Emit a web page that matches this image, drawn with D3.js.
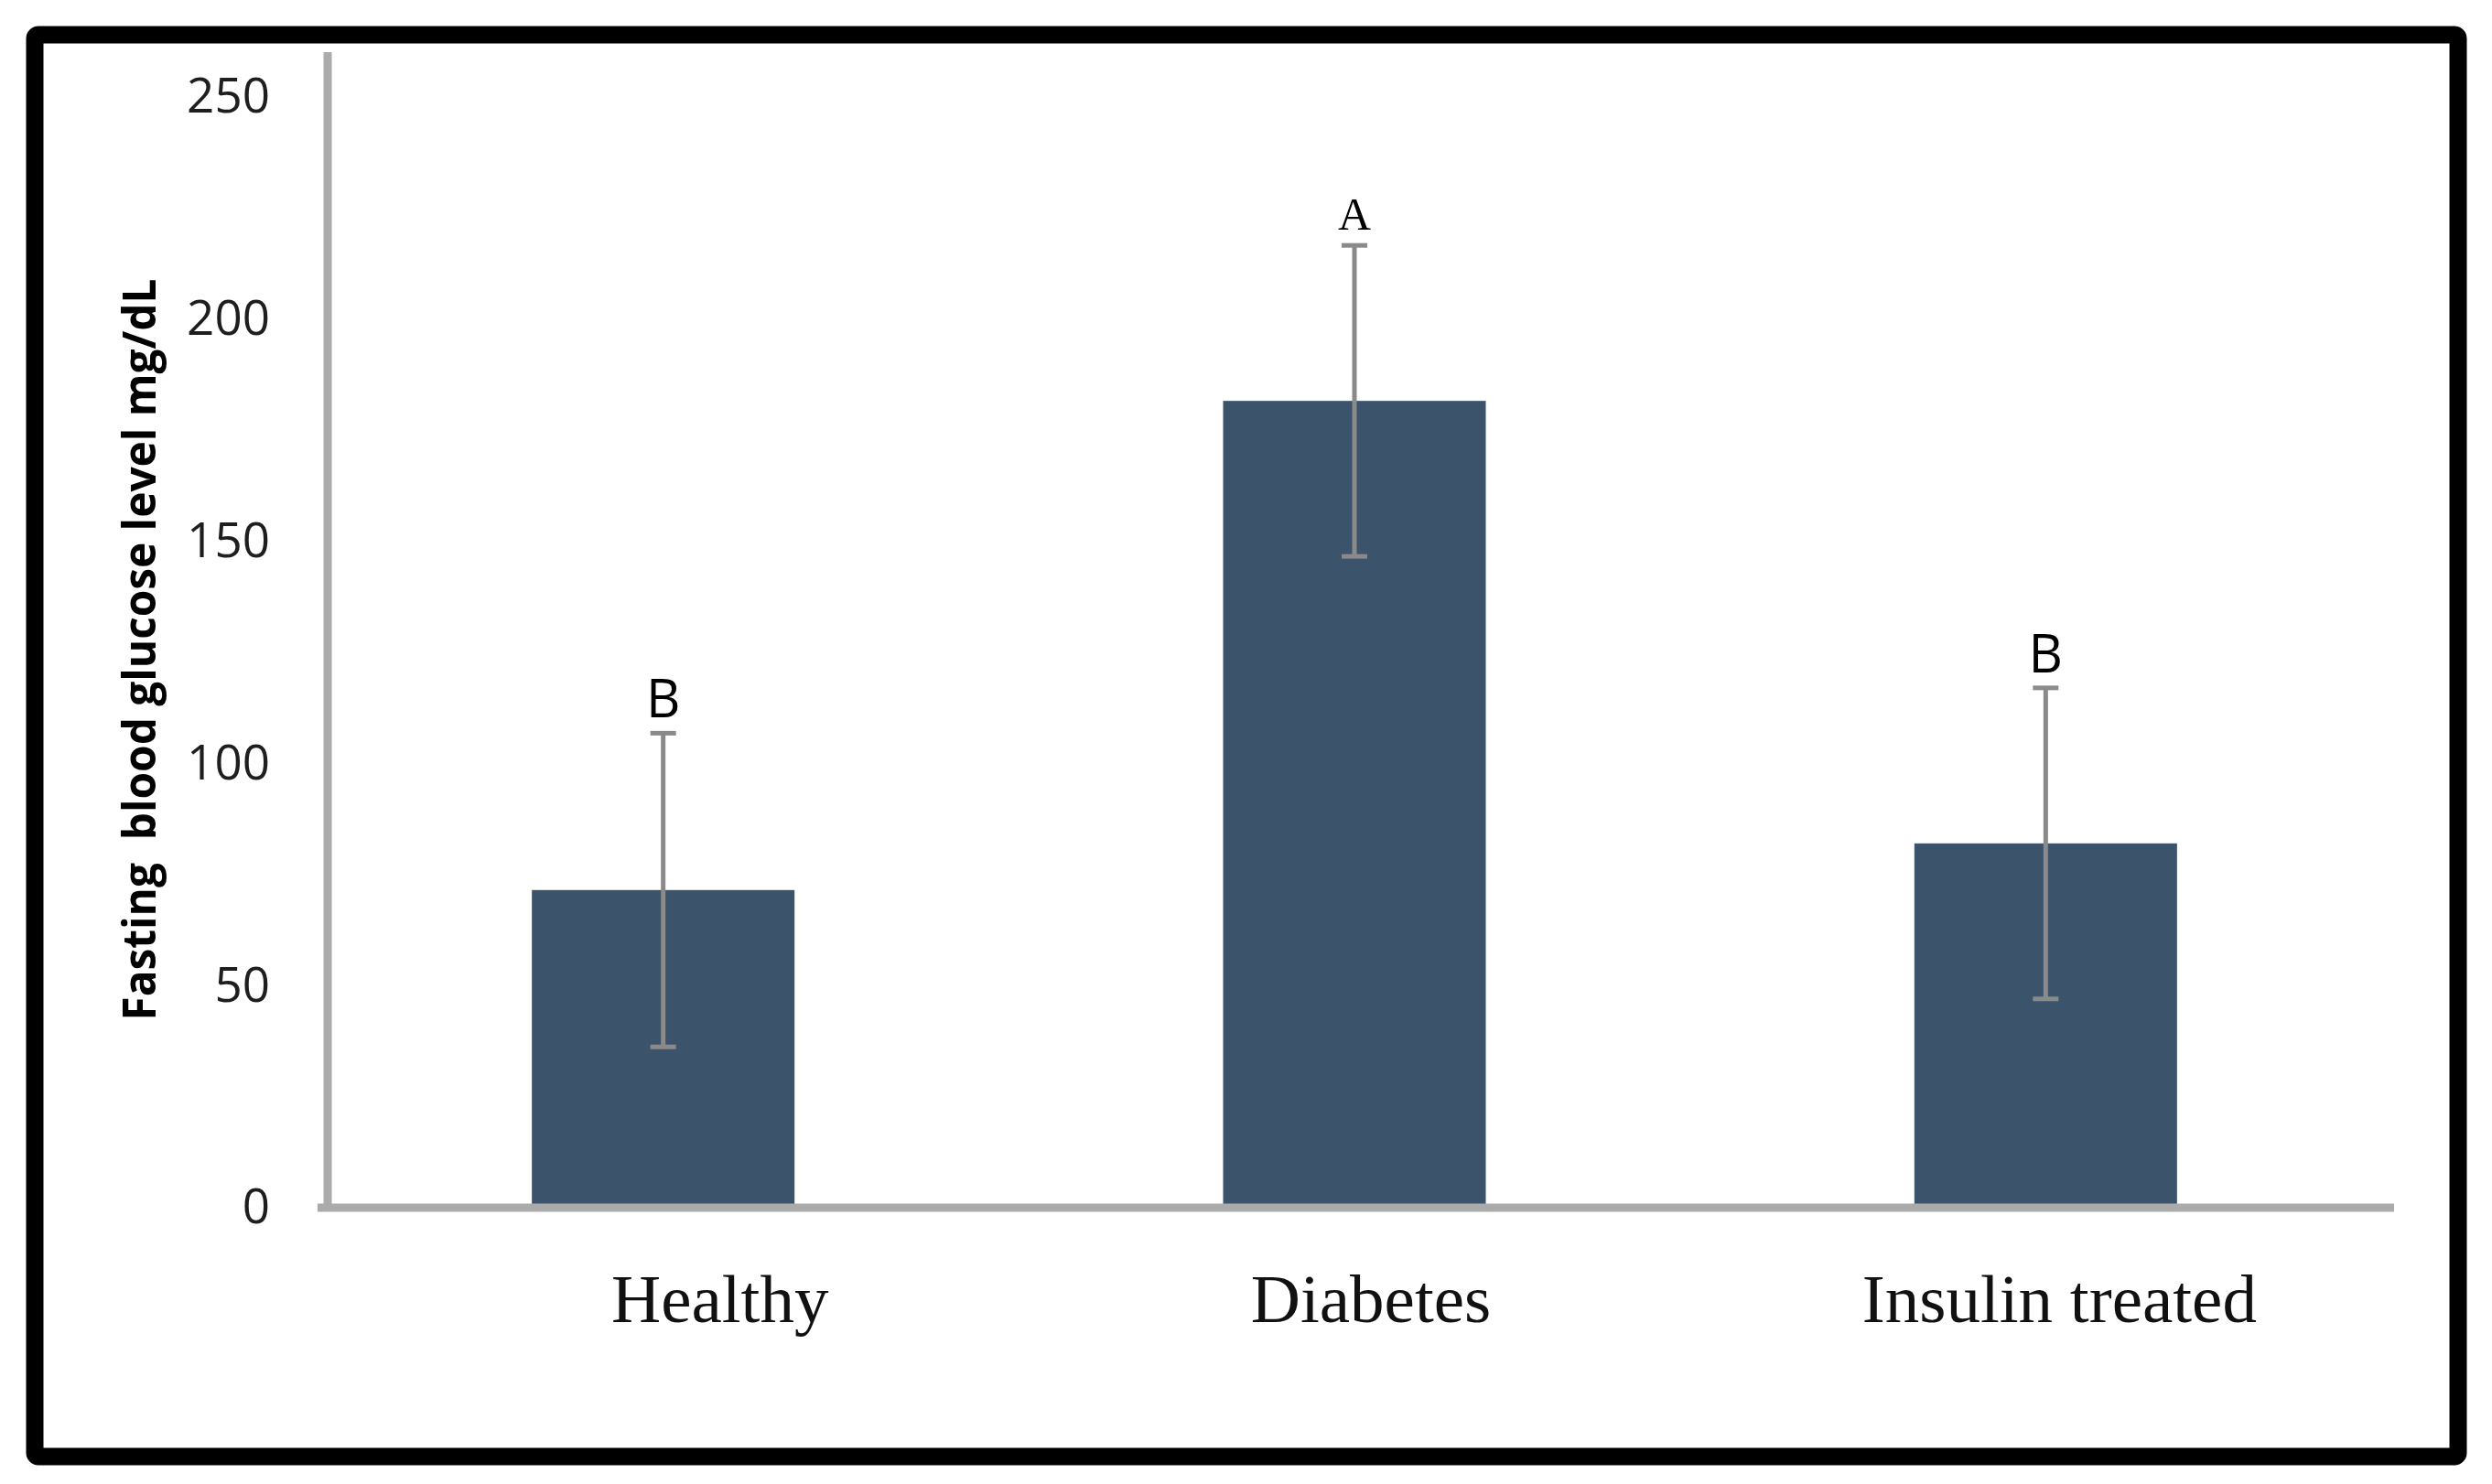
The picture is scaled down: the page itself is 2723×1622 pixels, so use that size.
<!DOCTYPE html>
<html>
<head>
<meta charset="utf-8">
<script src="https://cdn.jsdelivr.net/npm/d3@7"></script>
<style>
  body { margin: 0; background: #fff; }
  svg { display: block; }
</style>
</head>
<body>
<svg id="chart" width="2723" height="1622"></svg>
<script>
// Data
const categories = ["Healthy", "Diabetes", "Insulin treated"];
const means = [71.5, 181.6, 82];
const errors = [35.3, 35, 35];
const letters = ["B", "A", "B"];
const yTicks = [0, 50, 100, 150, 200, 250];

// label nudges (the original labels are not quite centred on the bars)
const labelNudge = [62, 18, 15];

const svg = d3.select("#chart");
const width = +svg.attr("width");
const height = +svg.attr("height");

const barColor = "#3b546c";
const axisColor = "#ababab";
const errColor = "#8a8a8a";

const y = d3.scaleLinear().domain([0, 250]).range([1320, 106]);
const x = d3.scaleBand()
  .domain(categories)
  .range([347, 2613])
  .paddingInner(0.62)
  .paddingOuter(0.31);

const rows = categories.map((c, i) => ({
  cat: c, mean: means[i], err: errors[i], letter: letters[i], nudge: labelNudge[i]
}));

svg.append("rect")
  .attr("width", width)
  .attr("height", height)
  .attr("fill", "#fff");

// outer frame
svg.append("rect")
  .attr("x", 38)
  .attr("y", 38)
  .attr("width", 2648)
  .attr("height", 1554)
  .attr("rx", 4)
  .attr("fill", "none")
  .attr("stroke", "#000")
  .attr("stroke-width", 19);

// bars
svg.selectAll(".bar")
  .data(rows)
  .enter()
  .append("rect")
  .attr("class", "bar")
  .attr("x", (d) => x(d.cat))
  .attr("width", x.bandwidth())
  .attr("y", (d) => y(d.mean))
  .attr("height", (d) => y(0) - y(d.mean))
  .attr("fill", barColor);

// error bars
const eb = svg.selectAll(".err")
  .data(rows)
  .enter()
  .append("g")
  .attr("class", "err")
  .attr("stroke", errColor)
  .attr("stroke-width", 5);

const cx = (d) => x(d.cat) + x.bandwidth() / 2;

eb.append("line")
  .attr("x1", cx)
  .attr("x2", cx)
  .attr("y1", (d) => y(d.mean + d.err))
  .attr("y2", (d) => y(d.mean - d.err));

[1, -1].forEach((s) => {
  eb.append("line")
    .attr("x1", (d) => cx(d) - 14)
    .attr("x2", (d) => cx(d) + 14)
    .attr("y1", (d) => y(d.mean + s * d.err))
    .attr("y2", (d) => y(d.mean + s * d.err));
});

// significance letters
svg.selectAll(".letter")
  .data(rows)
  .enter()
  .append("text")
  .attr("class", "letter")
  .attr("x", cx)
  .attr("y", (d) => y(d.mean + d.err) - 17)
  .attr("text-anchor", "middle")
  .attr("fill", "#000")
  .style("font-family", (d) => d.letter === "A" ? "'Liberation Serif', serif" : "'Open Sans', sans-serif")
  .style("font-size", (d) => d.letter === "A" ? "50px" : "58px")
  .text((d) => d.letter);

// axis lines
svg.append("line")
  .attr("x1", 358)
  .attr("x2", 358)
  .attr("y1", 57)
  .attr("y2", y(0) + 4)
  .attr("stroke", axisColor)
  .attr("stroke-width", 9);

svg.append("line")
  .attr("x1", 347)
  .attr("x2", 2616)
  .attr("y1", y(0))
  .attr("y2", y(0))
  .attr("stroke", axisColor)
  .attr("stroke-width", 9);

// y tick labels
const yAxis = svg.append("g")
  .attr("transform", "translate(358,0)")
  .call(d3.axisLeft(y).tickValues(yTicks).tickSize(0).tickPadding(63));
yAxis.select(".domain").remove();
yAxis.selectAll("text")
  .attr("fill", "#1e1e1e")
  .style("font-family", "'Open Sans', sans-serif")
  .style("font-size", "53px");

// x category labels
const xAxis = svg.append("g")
  .attr("transform", `translate(0,${y(0)})`)
  .call(d3.axisBottom(x).tickSize(0));
xAxis.select(".domain").remove();
xAxis.selectAll("text")
  .attr("dy", null)
  .attr("y", 125)
  .attr("dx", (d, i) => labelNudge[i])
  .attr("fill", "#111")
  .style("font-family", "'Liberation Serif', 'Times New Roman', serif")
  .style("font-size", "75px");

// y title
svg.append("text")
  .attr("transform", "translate(170,710) rotate(-90)")
  .attr("text-anchor", "middle")
  .attr("textLength", 811)
  .attr("lengthAdjust", "spacingAndGlyphs")
  .attr("fill", "#000")
  .style("font-family", "'Open Sans', sans-serif")
  .style("font-weight", "bold")
  .style("font-size", "50px")
  .style("white-space", "pre")
  .text("Fasting  blood glucose level mg/dL");
</script>
</body>
</html>
